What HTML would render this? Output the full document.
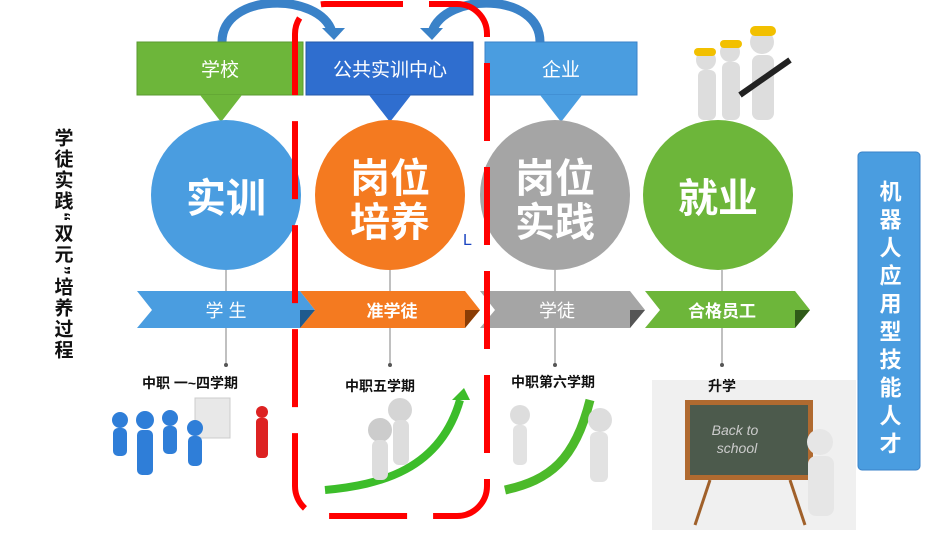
<!DOCTYPE html>
<html><head><meta charset="utf-8"><style>
html,body{margin:0;padding:0;background:#fff;}
svg{display:block}
text{font-family:"Liberation Sans","Noto Sans CJK SC",sans-serif;}
</style></head><body>
<svg width="950" height="533" viewBox="0 0 950 533" xmlns="http://www.w3.org/2000/svg">
<!-- arcs -->
<path d="M222 42 C222 -8 320 -8 332 32" fill="none" stroke="#3a82c8" stroke-width="9"/>
<polygon points="322,28 345,28 334,40" fill="#3a82c8"/>
<path d="M540 42 C540 -8 445 -8 432 32" fill="none" stroke="#3a82c8" stroke-width="9"/>
<polygon points="420,28 443,28 432,40" fill="#3a82c8"/>
<!-- top boxes -->
<rect x="137" y="42" width="166" height="53" fill="#6db63a" stroke="#5a9a30"/>
<polygon points="200,95 242,95 221,122" fill="#6db63a"/>
<text x="220" y="76" fill="#fff" font-size="19" text-anchor="middle">学校</text>
<rect x="306" y="42" width="167" height="53" fill="#2f6ecf" stroke="#2458a8"/>
<polygon points="369,95 411,95 390,122" fill="#2f6ecf"/>
<text x="390" y="76" fill="#fff" font-size="19" text-anchor="middle">公共实训中心</text>
<rect x="485" y="42" width="152" height="53" fill="#4a9de0" stroke="#3a82c8"/>
<polygon points="540,95 582,95 561,122" fill="#4a9de0"/>
<text x="561" y="76" fill="#fff" font-size="19" text-anchor="middle">企业</text>
<!-- vertical connectors -->
<g stroke="#aaa" stroke-width="1.5">
<line x1="226" y1="270" x2="226" y2="365"/><line x1="390" y1="270" x2="390" y2="365"/>
<line x1="555" y1="270" x2="555" y2="365"/><line x1="722" y1="270" x2="722" y2="365"/>
</g>
<g fill="#555"><circle cx="226" cy="365" r="2"/><circle cx="390" cy="365" r="2"/><circle cx="555" cy="365" r="2"/><circle cx="722" cy="365" r="2"/></g>
<!-- circles -->
<circle cx="226" cy="195" r="75" fill="#4a9de0"/>
<circle cx="390" cy="195" r="75" fill="#f47a20"/>
<circle cx="555" cy="195" r="75" fill="#a5a5a5"/>
<circle cx="718" cy="195" r="75" fill="#6db63a"/>
<text x="226" y="212" fill="#fff" font-size="40" font-weight="bold" text-anchor="middle">实训</text>
<text x="390" y="192" fill="#fff" font-size="40" font-weight="bold" text-anchor="middle">岗位</text>
<text x="390" y="236" fill="#fff" font-size="40" font-weight="bold" text-anchor="middle">培养</text>
<text x="555" y="192" fill="#fff" font-size="40" font-weight="bold" text-anchor="middle">岗位</text>
<text x="555" y="236" fill="#fff" font-size="40" font-weight="bold" text-anchor="middle">实践</text>
<text x="718" y="212" fill="#fff" font-size="40" font-weight="bold" text-anchor="middle">就业</text>
<!-- ribbon -->
<polygon points="137,291 300,291 315,310 300,328 137,328 152,310" fill="#4a9de0"/>
<polygon points="300,291 465,291 480,310 465,328 300,328 315,310" fill="#f47a20"/>
<polygon points="480,291 630,291 645,310 630,328 480,328 495,310" fill="#a5a5a5"/>
<polygon points="645,291 795,291 810,310 795,328 645,328 660,310" fill="#6db63a"/>
<polygon points="300,310 315,310 300,328" fill="#1e5a8e"/>
<polygon points="465,310 480,310 465,328" fill="#8a3d05"/>
<polygon points="630,310 645,310 630,328" fill="#555"/>
<polygon points="795,310 810,310 795,328" fill="#2f5a18"/>
<text x="226" y="317" fill="#fff" font-size="18" text-anchor="middle">学 生</text>
<text x="392" y="317" fill="#fff" font-size="17" font-weight="bold" text-anchor="middle">准学徒</text>
<text x="557" y="317" fill="#fff" font-size="18" text-anchor="middle">学徒</text>
<text x="722" y="317" fill="#fff" font-size="17" font-weight="bold" text-anchor="middle">合格员工</text>
<!-- images approximations -->
<rect x="195" y="398" width="35" height="40" fill="#e8e8e8" stroke="#ccc"/>
<g fill="#2f7ed8">
<circle cx="120" cy="420" r="8"/><rect x="113" y="428" width="14" height="28" rx="5"/>
<circle cx="145" cy="420" r="9"/><rect x="137" y="430" width="16" height="45" rx="5"/>
<circle cx="170" cy="418" r="8"/><rect x="163" y="426" width="14" height="28" rx="5"/>
<circle cx="195" cy="428" r="8"/><rect x="188" y="436" width="14" height="30" rx="5"/>
</g>
<circle cx="262" cy="412" r="6" fill="#d22"/><rect x="256" y="418" width="12" height="40" rx="4" fill="#d22"/>
<path d="M325 490 C380 485 440 470 460 400" fill="none" stroke="#3cbd2a" stroke-width="8"/>
<polygon points="452,400 470,400 464,388" fill="#3cbd2a"/>
<circle cx="380" cy="430" r="12" fill="#ccc"/><circle cx="400" cy="410" r="12" fill="#d5d5d5"/>
<rect x="372" y="440" width="16" height="40" rx="6" fill="#ddd"/><rect x="393" y="420" width="16" height="45" rx="6" fill="#ddd"/>
<path d="M505 490 C550 480 575 460 590 400" fill="none" stroke="#4cba2a" stroke-width="9"/>
<circle cx="520" cy="415" r="10" fill="#ddd"/><rect x="513" y="425" width="14" height="40" rx="5" fill="#e2e2e2"/>
<circle cx="600" cy="420" r="12" fill="#ddd"/><rect x="590" y="432" width="18" height="50" rx="6" fill="#e2e2e2"/>
<rect x="652" y="380" width="204" height="150" fill="#f0f0f0"/>
<rect x="685" y="400" width="128" height="80" fill="#b06a30"/>
<rect x="690" y="405" width="118" height="70" fill="#4c5a4c"/>
<line x1="710" y1="480" x2="695" y2="525" stroke="#a0602a" stroke-width="3"/>
<line x1="790" y1="480" x2="805" y2="525" stroke="#a0602a" stroke-width="3"/>
<text x="735" y="435" fill="#ccc" font-size="14" font-style="italic" text-anchor="middle">Back to</text>
<text x="737" y="453" fill="#ccc" font-size="14" font-style="italic" text-anchor="middle">school</text>
<circle cx="820" cy="442" r="13" fill="#e6e6e6"/><rect x="808" y="456" width="26" height="60" rx="8" fill="#e6e6e6"/>
<!-- labels -->
<g font-size="14" font-weight="bold" fill="#111" text-anchor="middle">
<text x="190" y="388">中职 一~四学期</text>
<text x="380" y="391">中职五学期</text>
<text x="553" y="387">中职第六学期</text>
<text x="722" y="391">升学</text>
</g>
<!-- workers -->
<g fill="#ddd"><circle cx="706" cy="60" r="10"/><circle cx="730" cy="52" r="10"/><circle cx="762" cy="42" r="12"/>
<rect x="698" y="70" width="18" height="50" rx="6"/><rect x="722" y="62" width="18" height="58" rx="6"/><rect x="752" y="55" width="22" height="65" rx="7"/></g>
<g fill="#f2c000"><rect x="694" y="48" width="22" height="8" rx="4"/><rect x="720" y="40" width="22" height="8" rx="4"/><rect x="750" y="26" width="26" height="10" rx="5"/></g>
<line x1="740" y1="95" x2="790" y2="60" stroke="#222" stroke-width="6"/>
<!-- red dashed rounded rect -->
<rect x="295" y="4" width="192" height="512" rx="30" fill="none" stroke="#f00" stroke-width="6" stroke-dasharray="78 26"/>
<text x="463" y="245" fill="#1a44c0" font-size="16">L</text>
<!-- left vertical text -->
<text x="62" y="128" font-size="19" font-weight="bold" fill="#111" style="writing-mode:vertical-rl" letter-spacing="2">学徒实践“双元”培养过程</text>
<!-- right scroll -->
<rect x="858" y="152" width="62" height="318" rx="4" fill="#4a9de0" stroke="#3a82c8"/>
<text x="889" y="180" font-size="22" font-weight="bold" fill="#fff" style="writing-mode:vertical-rl" letter-spacing="6">机器人应用型技能人才</text>
</svg>
</body></html>
